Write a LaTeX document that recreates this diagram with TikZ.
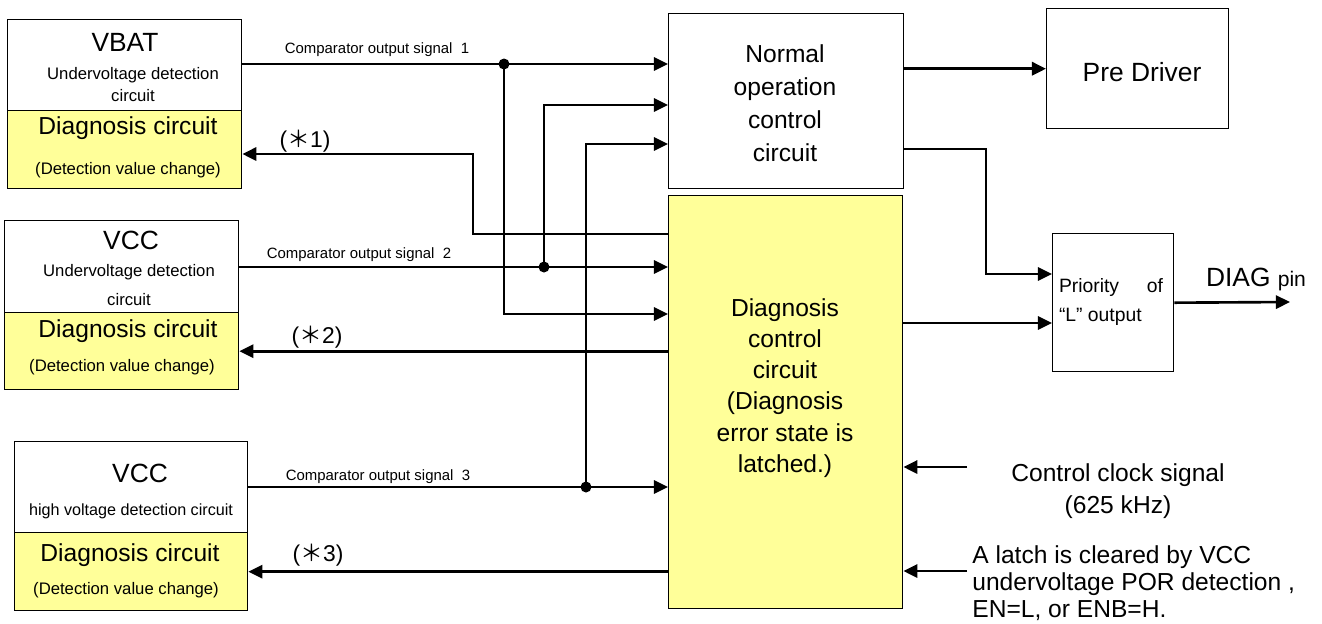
\documentclass[tikz,border=0pt]{standalone}
\usepackage{fontspec}
\setmainfont{Liberation Sans}
\newfontfamily\cjkfont{Noto Sans CJK JP}
\usetikzlibrary{arrows.meta}
\definecolor{diagyellow}{HTML}{FFFF99}
\definecolor{wirecolor}{HTML}{000000}

\begin{document}
\begin{tikzpicture}[
    x=0.02cm, y=-0.02cm,
    box/.style={draw=wirecolor, line width=0.8pt, inner sep=0pt, anchor=north west},
    yellowbox/.style={box, fill=diagyellow},
    wire/.style={draw=wirecolor, line width=1.5pt},
    thinwire/.style={draw=wirecolor, line width=0.7pt},
    sig/.style={wire, -{Triangle[length=8pt,width=7.5pt]}},
    txt/.style={inner sep=0pt, align=center},
    bigfont/.style={font=\fontsize{15}{18}\selectfont},
    midfont/.style={font=\fontsize{14}{18.7}\selectfont},
    smallfont/.style={font=\fontsize{9.5}{12.5}\selectfont},
    tinyfont/.style={font=\fontsize{8.5}{10}\selectfont}
]
  \useasboundingbox (0,0) rectangle (1322,623);

  % 1. Detection circuits (left column)
  % VBAT
  \node[box, minimum width=4.68cm, minimum height=1.82cm] (vbat) at (7,19) {};
  \node[yellowbox, minimum width=4.68cm, minimum height=1.56cm] (vbatdiag) at (7,110) {};
  \node[txt, bigfont] (vbattitle) at (125,42) {VBAT};
  \node[txt, smallfont] (vbatsub) at (133,85) {Undervoltage detection\\circuit};
  \node[txt, midfont] (vbatdiagtitle) at (128,128) {Diagnosis circuit};
  \node[txt, smallfont] (vbatdiagsub) at (128,170) {(Detection value change)};

  % VCC undervoltage
  \node[box, minimum width=4.68cm, minimum height=1.84cm] (vccuv) at (4,220) {};
  \node[yellowbox, minimum width=4.68cm, minimum height=1.54cm] (vccuvdiag) at (4,312) {};
  \node[txt, bigfont] (vccuvtitle) at (131,240) {VCC};
  \node[txt, font=\fontsize{9.5}{17}\selectfont] (vccuvsub) at (129,285) {Undervoltage detection\\circuit};
  \node[txt, midfont] (vccuvdiagtitle) at (128,331) {Diagnosis circuit};
  \node[txt, smallfont] (vccuvdiagsub) at (122,367) {(Detection value change)};

  % VCC high voltage
  \node[box, minimum width=4.66cm, minimum height=1.82cm] (vcchv) at (14,441) {};
  \node[yellowbox, minimum width=4.66cm, minimum height=1.56cm] (vcchvdiag) at (14,532) {};
  \node[txt, bigfont] (vcchvtitle) at (140,473) {VCC};
  \node[txt, font=\fontsize{9.2}{12}\selectfont] (vcchvsub) at (131,511) {high voltage detection circuit};
  \node[txt, midfont] (vcchvdiagtitle) at (130,555) {Diagnosis circuit};
  \node[txt, smallfont] (vcchvdiagsub) at (126,590) {(Detection value change)};

  % 2. Control blocks
  \node[box, minimum width=4.70cm, minimum height=3.50cm] (normal) at (668,13) {};
  \node[txt, midfont] (normaltext) at (785,103) {Normal\\operation\\control\\circuit};
  \node[yellowbox, minimum width=4.68cm, minimum height=8.26cm] (diag) at (668,195) {};
  \node[txt, font=\fontsize{14}{17.7}\selectfont] (diagtext) at (785,388)
    {Diagnosis\\control\\circuit\\(Diagnosis\\error state is\\latched.)};

  % 3. Output blocks
  \node[box, minimum width=3.64cm, minimum height=2.40cm] (pre) at (1046,8) {};
  \node[txt, bigfont] (pretext) at (1142,72) {Pre Driver};
  \node[box, minimum width=2.42cm, minimum height=2.76cm] (prio) at (1052,233) {};
  \node[txt, align=left, font=\fontsize{11}{16}\selectfont] (priotext) at (1111,302)
    {\makebox[2.08cm][s]{Priority\hfill of}\\“L” output};

  % Junctions and bends
  \coordinate (j1) at (504,64);
  \coordinate (j2) at (544,267);
  \coordinate (j3) at (586,487);
  \coordinate (t2) at (495,267);
  \coordinate (t3) at (551,487);
  \coordinate (y1) at (0,314);
  \coordinate (y2) at (0,105);
  \coordinate (y3) at (0,144);
  \coordinate (f1) at (0,234);
  \coordinate (k1) at (473,154);
  \coordinate (y4) at (0,149);
  \coordinate (bend) at (986,274);
  \coordinate (y5) at (0,323);
  \coordinate (pin) at (1290,302);
  \coordinate (clk) at (967,467);
  \coordinate (clr) at (967,571);

  % 4. Comparator signals
  \draw[sig] (vbat.east |- j1) -- (normal.west |- j1);
  \draw[sig] (j1) |- (diag.west |- y1);
  \draw[thinwire] (vccuv.east |- j2) -- (t2);
  \draw[sig] (t2) -- (diag.west |- j2);
  \draw[sig] (j2) |- (normal.west |- y2);
  \draw[thinwire] (vcchv.east |- j3) -- (t3);
  \draw[sig] (t3) -- (diag.west |- j3);
  \draw[sig] (j3) |- (normal.west |- y3);
  \fill[wirecolor] (j1) circle (5.5);
  \fill[wirecolor] (j2) circle (5.5);
  \fill[wirecolor] (j3) circle (5.5);
  \node[txt, tinyfont] (sig1text) at (377,50) {Comparator output signal\ \ 1};
  \node[txt, tinyfont] (sig2text) at (359,255) {Comparator output signal\ \ 2};
  \node[txt, tinyfont] (sig3text) at (378,477) {Comparator output signal\ \ 3};

  % 5. Feedback to diagnosis circuits
  \draw[sig] (diag.west |- f1) -| (k1) -- (vbatdiag.east |- k1);
  \draw[sig] (diag.west |- vccuvdiag.east) -- (vccuvdiag.east);
  \draw[sig] (diag.west |- vcchvdiag.east) -- (vcchvdiag.east);
  \node[txt, font=\fontsize{13}{15}\selectfont] (fb1text) at (305,141) {({\cjkfont ＊}1)};
  \node[txt, font=\fontsize{13}{15}\selectfont] (fb2text) at (317,337) {({\cjkfont ＊}2)};
  \node[txt, font=\fontsize{13}{15}\selectfont] (fb3text) at (318,555) {({\cjkfont ＊}3)};

  % 6. Outputs
  \draw[sig] (normal.east |- pre.west) -- (pre.west);
  \draw[sig] (normal.east |- y4) -| (bend) -- (prio.west |- bend);
  \draw[sig] (diag.east |- y5) -- (prio.west |- y5);
  \draw[sig] (prio.east) -- (pin);
  \node[txt, anchor=base] (pintext) at (1256,286) {\fontsize{15}{18}\selectfont DIAG \fontsize{12}{14}\selectfont pin};

  % 7. Clock and latch clear inputs
  \draw[sig] (clk) -- (diag.east |- clk);
  \draw[sig] (clr) -- (diag.east |- clr);
  \node[txt, font=\fontsize{14}{18}\selectfont] (clktext) at (1118,491) {Control clock signal\\(625 kHz)};
  \node[txt, align=left, anchor=west, font=\fontsize{14}{15.3}\selectfont] (clrtext) at (972,583)
    {A latch is cleared by VCC\\undervoltage POR detection ,\\EN=L, or ENB=H.};

\end{tikzpicture}
\end{document}
